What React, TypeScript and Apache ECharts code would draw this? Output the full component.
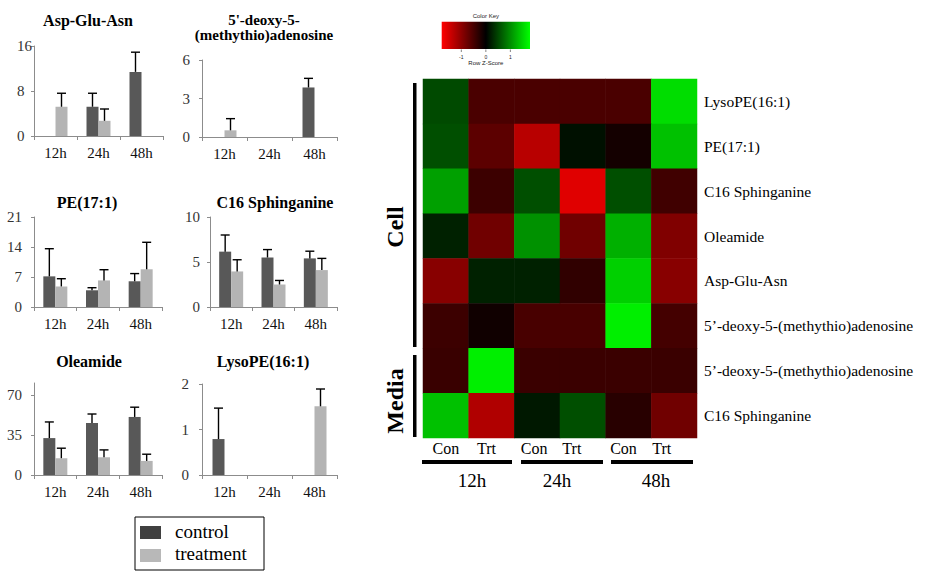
import React, { useEffect, useRef } from "react";
import * as echarts from "echarts";

// ---------------- data ----------------
const timePoints = ["12h", "24h", "48h"];
const seriesNames = ["control", "treatment"];

const aspTitle = "Asp-Glu-Asn";
const aspControl = [0, 5.2, 11.4];
const aspControlErr = [null, 2.4, 3.5];
const aspTreatment = [5.2, 2.7, 0];
const aspTreatmentErr = [2.4, 2.1, null];
const aspTicks = [0, 8, 16];

const mtaTitle = "5'-deoxy-5-\n(methythio)adenosine";
const mtaControl = [0, 0, 3.86];
const mtaControlErr = [null, null, 0.71];
const mtaTreatment = [0.52, 0, 0];
const mtaTreatmentErr = [0.91, null, null];
const mtaTicks = [0, 3, 6];

const peTitle = "PE(17:1)";
const peControl = [7.15, 3.9, 6.0];
const peControlErr = [6.45, 0.6, 1.8];
const peTreatment = [4.8, 6.2, 8.8];
const peTreatmentErr = [1.8, 2.5, 6.3];
const peTicks = [0, 7, 14, 21];

const c16Title = "C16 Sphinganine";
const c16Control = [6.15, 5.5, 5.4];
const c16ControlErr = [1.85, 0.88, 0.8];
const c16Treatment = [3.95, 2.5, 4.1];
const c16TreatmentErr = [1.3, 0.45, 1.3];
const c16Ticks = [0, 5, 10];

const oleTitle = "Oleamide";
const oleControl = [32.5, 45.8, 51.1];
const oleControlErr = [14.2, 7.9, 8.6];
const oleTreatment = [14.8, 15.6, 12.4];
const oleTreatmentErr = [8.8, 6.5, 5.9];
const oleTicks = [0, 35, 70];
const oleAxisMax = 81;

const lysoTitle = "LysoPE(16:1)";
const lysoControl = [0.79, 0, 0];
const lysoControlErr = [0.68, null, null];
const lysoTreatment = [0, 0, 1.51];
const lysoTreatmentErr = [null, null, 0.38];
const lysoTicks = [0, 1, 2];

const heatColumns = ["Con", "Trt", "Con", "Trt", "Con", "Trt"];
const heatTimeGroups = ["12h", "24h", "48h"];
const heatRows = [
  "LysoPE(16:1)",
  "PE(17:1)",
  "C16 Sphinganine",
  "Oleamide",
  "Asp-Glu-Asn",
  "5\u2019-deoxy-5-(methythio)adenosine",
  "5\u2019-deoxy-5-(methythio)adenosine",
  "C16 Sphinganine",
];
const heatValues = [
  [0.52, -0.52, -0.52, -0.52, -0.52, 1.56],
  [0.56, -0.65, -1.3, 0.11, -0.14, 1.36],
  [1.13, -0.42, 0.56, -1.58, 0.56, -0.45],
  [0.23, -0.79, 1.02, -0.79, 1.24, -0.9],
  [-0.96, 0.23, 0.23, -0.34, 1.47, -0.96],
  [-0.42, -0.11, -0.51, -0.51, 1.69, -0.48],
  [-0.4, 1.69, -0.41, -0.41, -0.41, -0.41],
  [1.36, -1.24, 0.17, 0.56, -0.28, -0.79],
];
const heatGroups = ["Cell", "Media"];
const colorKeyTicks = [-1, 0, 1];
const colorKeyMin = -1.8;
const colorKeyMax = 1.8;

// ---------------- style ----------------
const SERIF = "Liberation Serif";
const SANS = "Liberation Sans";
const controlColor = "#585858";
const treatmentColor = "#b4b4b4";
const legendControlColor = "#404040";
const legendTreatmentColor = "#b8b8b8";
const axisGrey = "#8c8c8c";
const BAR_W = 12;
// leftward nudges of the heatmap column labels (px), as placed in the figure
const colLabelShift = [0, 5, 3, 11, 5, 12.5];

const panels = [
  { title: aspTitle, c: aspControl, ce: aspControlErr, t: aspTreatment, te: aspTreatmentErr, ticks: aspTicks, max: aspTicks[aspTicks.length - 1] },
  { title: mtaTitle, c: mtaControl, ce: mtaControlErr, t: mtaTreatment, te: mtaTreatmentErr, ticks: mtaTicks, max: mtaTicks[mtaTicks.length - 1] },
  { title: peTitle, c: peControl, ce: peControlErr, t: peTreatment, te: peTreatmentErr, ticks: peTicks, max: peTicks[peTicks.length - 1] },
  { title: c16Title, c: c16Control, ce: c16ControlErr, t: c16Treatment, te: c16TreatmentErr, ticks: c16Ticks, max: c16Ticks[c16Ticks.length - 1] },
  { title: oleTitle, c: oleControl, ce: oleControlErr, t: oleTreatment, te: oleTreatmentErr, ticks: oleTicks, max: oleAxisMax },
  { title: lysoTitle, c: lysoControl, ce: lysoControlErr, t: lysoTreatment, te: lysoTreatmentErr, ticks: lysoTicks, max: lysoTicks[lysoTicks.length - 1] },
];

const layouts = [
  { left: 34, top: 46, width: 129, height: 90, tx: 88, ty: 20, tsize: 16, lblAlign: "left", lblMargin: 17 },
  { left: 202, top: 60, width: 135, height: 77, tx: 264, ty: 27.5, tsize: 15, lblAlign: "right", lblMargin: 12 },
  { left: 34, top: 217, width: 128, height: 90, tx: 87, ty: 202, tsize: 16, lblAlign: "right", lblMargin: 12 },
  { left: 210, top: 217, width: 127, height: 90, tx: 275, ty: 202, tsize: 16, lblAlign: "right", lblMargin: 10 },
  { left: 34, top: 383, width: 128, height: 92, tx: 89, ty: 361, tsize: 16, lblAlign: "right", lblMargin: 12 },
  { left: 202, top: 384, width: 135, height: 91, tx: 263, ty: 361, tsize: 16, lblAlign: "right", lblMargin: 13 },
];

const heatGrid = { left: 423, top: 79, width: 274, height: 359 };

function txt(x: number, y: number, text: string, size: number, opts: any = {}) {
  const style: any = {
    text,
    fontFamily: opts.family || SERIF,
    fontSize: size,
    align: opts.align || "center",
    verticalAlign: "middle",
    fill: opts.fill || "#000",
  };
  if (opts.bold) style.fontWeight = "bold";
  if (opts.lineHeight) style.lineHeight = opts.lineHeight;
  const el: any = { type: "text", x, y, style };
  if (opts.rotation) el.rotation = opts.rotation;
  return el;
}

function errorSeries(idx: number, means: number[], errs: (number | null)[], side: number) {
  const data: number[][] = [];
  means.forEach((m, i) => {
    const e = errs[i];
    if (e != null) data.push([i, m, m + e]);
  });
  return {
    type: "custom",
    xAxisIndex: idx,
    yAxisIndex: idx,
    z: 5,
    silent: true,
    data,
    renderItem: (params: any, api: any) => {
      const x = api.value(0);
      const p0 = api.coord([x, api.value(1)]);
      const p1 = api.coord([x, api.value(2)]);
      const cx = p0[0] + (side * BAR_W) / 2;
      const st = { stroke: "#000", lineWidth: 1.4 };
      return {
        type: "group",
        children: [
          { type: "line", shape: { x1: cx, y1: p0[1], x2: cx, y2: p1[1] }, style: st },
          { type: "line", shape: { x1: cx - 4.5, y1: p1[1], x2: cx + 4.5, y2: p1[1] }, style: st },
        ],
      };
    },
  };
}

function buildOption() {
  const grid: any[] = [];
  const xAxis: any[] = [];
  const yAxis: any[] = [];
  const series: any[] = [];
  const graphic: any[] = [];

  panels.forEach((p, i) => {
    const L = layouts[i];
    grid.push({ left: L.left, top: L.top, width: L.width, height: L.height });
    xAxis.push({
      type: "category",
      gridIndex: i,
      data: timePoints,
      axisLine: { lineStyle: { color: axisGrey, width: 1 } },
      axisTick: { show: true, length: 4, lineStyle: { color: axisGrey } },
      axisLabel: { color: "#111", fontFamily: SERIF, fontSize: 15, margin: 9 },
    });
    yAxis.push({
      type: "value",
      gridIndex: i,
      min: 0,
      max: p.max,
      interval: p.ticks[1] - p.ticks[0],
      splitLine: { show: false },
      axisLine: { show: true, lineStyle: { color: axisGrey, width: 1 } },
      axisTick: { show: true, length: 3, lineStyle: { color: axisGrey } },
      axisLabel: {
        color: "#333",
        fontFamily: SERIF,
        fontSize: 15,
        margin: L.lblMargin,
        align: L.lblAlign,
        showMaxLabel: p.max === p.ticks[p.ticks.length - 1],
      },
    });
    series.push({
      type: "bar",
      name: seriesNames[0],
      xAxisIndex: i,
      yAxisIndex: i,
      data: p.c,
      barWidth: BAR_W,
      barGap: "0%",
      itemStyle: { color: controlColor },
      silent: true,
    });
    series.push({
      type: "bar",
      name: seriesNames[1],
      xAxisIndex: i,
      yAxisIndex: i,
      data: p.t,
      barWidth: BAR_W,
      barGap: "0%",
      itemStyle: { color: treatmentColor },
      silent: true,
    });
    series.push(errorSeries(i, p.c, p.ce, -1));
    series.push(errorSeries(i, p.t, p.te, 1));
    graphic.push(txt(L.tx, L.ty, p.title, L.tsize, { bold: true, lineHeight: 15 }));
  });

  // heatmap
  const hIdx = panels.length;
  grid.push({ ...heatGrid });
  const rich: any = {};
  colLabelShift.forEach((s, i) => {
    rich["k" + i] = { fontFamily: SERIF, fontSize: 16, color: "#000", padding: [0, 2 * s, 0, 0] };
  });
  xAxis.push({
    type: "category",
    gridIndex: hIdx,
    data: heatColumns,
    axisLine: { show: false },
    axisTick: { show: false },
    splitLine: { show: false },
    axisLabel: {
      color: "#000",
      fontFamily: SERIF,
      fontSize: 16,
      margin: 2,
      interval: 0,
      formatter: (v: string, i: number) => `{k${i}|${v}}`,
      rich,
    },
  });
  yAxis.push({
    type: "category",
    gridIndex: hIdx,
    data: heatRows,
    inverse: true,
    position: "right",
    axisLine: { show: false },
    axisTick: { show: false },
    splitLine: { show: false },
    axisLabel: { color: "#000", fontFamily: SERIF, fontSize: 15.5, margin: 7, interval: 0 },
  });
  const heatData: number[][] = [];
  heatValues.forEach((row, r) => row.forEach((v, c) => heatData.push([c, r, v])));
  const heatSeriesIndex = series.length;
  series.push({
    type: "heatmap",
    xAxisIndex: hIdx,
    yAxisIndex: hIdx,
    data: heatData,
    silent: true,
    itemStyle: { borderWidth: 0 },
  });

  // legend box
  graphic.push(
    { type: "rect", shape: { x: 135, y: 517, width: 129, height: 53 }, style: { fill: "#fff", stroke: "#000", lineWidth: 1 } },
    { type: "rect", shape: { x: 140, y: 526, width: 21, height: 13 }, style: { fill: legendControlColor } },
    { type: "rect", shape: { x: 140, y: 549, width: 21, height: 13 }, style: { fill: legendTreatmentColor } },
    txt(175, 531, seriesNames[0], 19, { align: "left" }),
    txt(175, 553, seriesNames[1], 19, { align: "left" })
  );

  // colour key
  const keyX = 441.7;
  const keyW = 88.3;
  const keyToX = (v: number) => keyX + ((v - colorKeyMin) / (colorKeyMax - colorKeyMin)) * keyW;
  graphic.push(
    txt(keyX + keyW / 2, 16, "Color Key", 6, { family: SANS, fill: "#222" }),
    {
      type: "rect",
      shape: { x: keyX, y: 21.7, width: keyW, height: 27.3 },
      style: {
        fill: new echarts.graphic.LinearGradient(0, 0, 1, 0, [
          { offset: 0, color: "#ff0000" },
          { offset: 0.5, color: "#000000" },
          { offset: 1, color: "#00ff00" },
        ]),
      },
    },
    txt(keyX + keyW / 2, 63, "Row Z-Score", 6, { family: SANS, fill: "#222" })
  );
  colorKeyTicks.forEach((t) => {
    const tx = keyToX(t);
    graphic.push(
      { type: "line", shape: { x1: tx, y1: 49.5, x2: tx, y2: 52 }, style: { stroke: "#333", lineWidth: 0.6 } },
      txt(tx, 56.5, String(t), 5, { family: SANS, fill: "#222" })
    );
  });

  // Cell / Media side labels and bars
  graphic.push(
    { type: "rect", shape: { x: 413, y: 83, width: 3.5, height: 264 }, style: { fill: "#000" } },
    { type: "rect", shape: { x: 413, y: 355, width: 3.5, height: 82 }, style: { fill: "#000" } },
    txt(395, 227, heatGroups[0], 24, { bold: true, rotation: Math.PI / 2 }),
    txt(395, 401, heatGroups[1], 24, { bold: true, rotation: Math.PI / 2 })
  );

  // time group bars under heatmap
  const groupBars = [
    [422, 512],
    [521, 603],
    [611, 693],
  ];
  const groupLabelX = [472, 557, 656];
  heatTimeGroups.forEach((g, i) => {
    graphic.push(
      { type: "rect", shape: { x: groupBars[i][0], y: 460, width: groupBars[i][1] - groupBars[i][0], height: 4 }, style: { fill: "#000" } },
      txt(groupLabelX[i], 480, g, 19)
    );
  });

  return {
    animation: false,
    backgroundColor: "#ffffff",
    grid,
    xAxis,
    yAxis,
    visualMap: {
      type: "continuous",
      show: false,
      min: colorKeyMin,
      max: colorKeyMax,
      seriesIndex: heatSeriesIndex,
      dimension: 2,
      inRange: { color: ["#ff0000", "#000000", "#00ff00"] },
    },
    series,
    graphic,
  };
}

export default function App() {
  const ref = useRef<HTMLDivElement>(null);
  useEffect(() => {
    if (!ref.current) return;
    const chart = echarts.init(ref.current, undefined, { renderer: "svg" });
    chart.setOption(buildOption() as any);
    return () => chart.dispose();
  }, []);
  return (
    <div
      ref={ref}
      style={{ position: "fixed", left: 0, top: 0, width: 929, height: 572, background: "#fff" }}
    />
  );
}
